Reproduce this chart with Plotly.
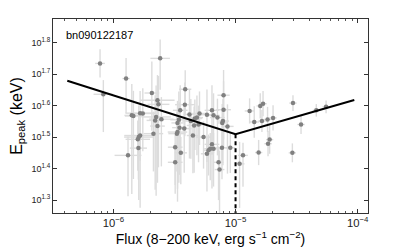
import numpy as np
import plotly.graph_objects as go

# log10 flux (erg s^-1 cm^-2) and log10 Epeak (keV)
log_flux = [-6.109, -6.082, -5.896, -5.617, -5.880, -5.849, -5.836, -5.781, -5.759, -5.792,
            -5.800, -5.781, -5.795, -5.685, -5.639, -5.631, -5.650, -5.658, -5.607, -5.639,
            -5.672, -5.412, -5.453, -5.415, -5.464, -5.475, -5.459, -5.475, -5.480, -5.494,
            -5.448, -5.494, -5.420, -5.377, -5.366, -5.333, -5.316, -5.339, -5.349, -5.295,
            -5.303, -5.262, -5.234, -5.193, -5.180, -5.148, -5.098, -5.098, -5.103, -5.109,
            -5.193, -5.207, -5.180, -5.234, -5.221, -5.111, -5.139, -5.131, -5.043, -5.066,
            -4.967, -4.939, -4.885, -4.847, -4.798, -4.775, -4.784, -4.738, -4.693, -4.721,
            -4.734, -4.811, -4.530, -4.464, -4.535, -4.339, -4.259]
log_epeak = [1.734, 1.636, 1.686, 1.750, 1.442, 1.569, 1.567, 1.576, 1.575, 1.500,
             1.493, 1.505, 1.465, 1.640, 1.617, 1.604, 1.564, 1.553, 1.557, 1.535,
             1.511, 1.652, 1.585, 1.603, 1.555, 1.545, 1.530, 1.516, 1.511, 1.468,
             1.450, 1.420, 1.527, 1.572, 1.551, 1.559, 1.562, 1.537, 1.505, 1.575,
             1.540, 1.500, 1.571, 1.585, 1.569, 1.562, 1.633, 1.587, 1.551, 1.545,
             1.477, 1.463, 1.463, 1.447, 1.458, 1.466, 1.420, 1.397, 1.466, 1.534,
             1.415, 1.442, 1.583, 1.548, 1.599, 1.606, 1.551, 1.556, 1.561, 1.492,
             1.479, 1.451, 1.608, 1.540, 1.450, 1.585, 1.596]
log_flux_err = [0.04, 0.08, 0.03, 0.08, 0.11, 0.06, 0.07, 0.12, 0.10, 0.12,
                0.10, 0.13, 0.07, 0.06, 0.14, 0.09, 0.12, 0.07, 0.10, 0.06,
                0.08, 0.05, 0.06, 0.08, 0.07, 0.05, 0.06, 0.08, 0.07, 0.06,
                0.05, 0.06, 0.06, 0.05, 0.07, 0.06, 0.05, 0.06, 0.05, 0.06,
                0.05, 0.06, 0.05, 0.06, 0.05, 0.06, 0.05, 0.06, 0.05, 0.04,
                0.06, 0.05, 0.06, 0.05, 0.04, 0.05, 0.04, 0.04, 0.04, 0.05,
                0.04, 0.04, 0.04, 0.04, 0.03, 0.03, 0.03, 0.03, 0.03, 0.03,
                0.03, 0.03, 0.03, 0.03, 0.03, 0.03, 0.03]
log_epeak_err_up = [0.045, 0.045, 0.065, 0.06, 0.06, 0.10, 0.08, 0.07, 0.08, 0.10,
                    0.06, 0.06, 0.05, 0.10, 0.08, 0.09, 0.10, 0.08, 0.07, 0.06,
                    0.07, 0.06, 0.08, 0.07, 0.09, 0.07, 0.08, 0.06, 0.07, 0.05,
                    0.05, 0.06, 0.07, 0.08, 0.07, 0.06, 0.07, 0.06, 0.05, 0.07,
                    0.06, 0.05, 0.08, 0.08, 0.07, 0.06, 0.08, 0.09, 0.07, 0.06,
                    0.06, 0.05, 0.05, 0.05, 0.05, 0.06, 0.05, 0.06, 0.05, 0.07,
                    0.07, 0.04, 0.04, 0.05, 0.04, 0.04, 0.035, 0.04, 0.04, 0.045,
                    0.04, 0.04, 0.025, 0.03, 0.03, 0.02, 0.02]
log_epeak_err_down = [0.045, 0.12, 0.11, 0.10, 0.13, 0.25, 0.20, 0.30, 0.12, 0.20,
                      0.10, 0.08, 0.10, 0.12, 0.15, 0.20, 0.25, 0.22, 0.15, 0.18,
                      0.12, 0.08, 0.12, 0.10, 0.20, 0.25, 0.15, 0.18, 0.12, 0.12,
                      0.10, 0.10, 0.14, 0.14, 0.12, 0.10, 0.12, 0.15, 0.12, 0.10,
                      0.12, 0.10, 0.15, 0.14, 0.12, 0.12, 0.14, 0.12, 0.14, 0.12,
                      0.14, 0.10, 0.12, 0.12, 0.08, 0.10, 0.12, 0.30, 0.08, 0.15,
                      0.14, 0.10, 0.04, 0.05, 0.04, 0.04, 0.035, 0.04, 0.04, 0.045,
                      0.04, 0.04, 0.025, 0.03, 0.03, 0.02, 0.02]

# broken power-law fit (log values)
fit_log_flux = [-6.377, -5.0, -4.028]
fit_log_epeak = [1.679, 1.509, 1.618]
break_log_flux = -5.0

y_ticks = [1.3, 1.4, 1.5, 1.6, 1.7, 1.8]

lf = np.array(log_flux); le = np.array(log_epeak)
fe = np.array(log_flux_err)
eu = np.array(log_epeak_err_up); ed = np.array(log_epeak_err_down)
x = 10 ** lf; y = 10 ** le

fig = go.Figure()
fig.add_trace(go.Scatter(
    x=x, y=y, mode="markers",
    marker=dict(color="#808080", size=4.5),
    error_x=dict(type="data", symmetric=False, array=10 ** (lf + fe) - x,
                 arrayminus=x - 10 ** (lf - fe), color="#dcdcdc", thickness=1.4, width=0),
    error_y=dict(type="data", symmetric=False, array=10 ** (le + eu) - y,
                 arrayminus=y - 10 ** (le - ed), color="#dcdcdc", thickness=1.4, width=0),
    showlegend=False, hoverinfo="skip"))
fig.add_trace(go.Scatter(
    x=[10 ** v for v in fit_log_flux], y=[10 ** v for v in fit_log_epeak], mode="lines",
    line=dict(color="black", width=2), showlegend=False))
fig.add_trace(go.Scatter(
    x=[10 ** break_log_flux, 10 ** break_log_flux], y=[10 ** fit_log_epeak[1], 10 ** 1.2],
    mode="lines", line=dict(color="black", width=2, dash="4px,3px"), showlegend=False))

fig.add_annotation(x=0.035, y=0.92, xref="paper", yref="paper", text="bn090122187",
                   showarrow=False, xanchor="left", yanchor="middle",
                   font=dict(size=11, color="black"))

axis_common = dict(showline=True, linecolor="#333", linewidth=1, mirror="allticks",
                   ticks="inside", ticklen=4, tickcolor="#333", showgrid=False,
                   zeroline=False, automargin=False, tickfont=dict(size=9, color="#222"))
fig.update_xaxes(type="log", range=[-6.494, -3.916], dtick=1, exponentformat="power",
                 minor=dict(ticks="inside", ticklen=2, tickcolor="#555", dtick="D1", showgrid=False),
                 title=dict(text="Flux (8\u2212200 keV, erg s<sup>\u22121</sup> cm<sup>\u22122</sup>)",
                            font=dict(size=14, color="black"), standoff=4),
                 **axis_common)
fig.update_yaxes(type="log", range=[1.259, 1.875],
                 tickvals=[10 ** v for v in y_ticks],
                 ticktext=[f"10<sup>{v:.1f}</sup>" for v in y_ticks],
                 title=dict(text="E<sub>peak</sub> (keV)", font=dict(size=16, color="black"), standoff=5),
                 **axis_common)
# page body has an 8px default margin; compensate so the plot lands where the reference's does
fig.update_layout(width=399, height=243, margin=dict(l=45, r=39, t=11, b=38),
                  plot_bgcolor="white", paper_bgcolor="white",
                  font=dict(family="Liberation Sans, Arial, sans-serif"))
fig.write_html("out.html")
